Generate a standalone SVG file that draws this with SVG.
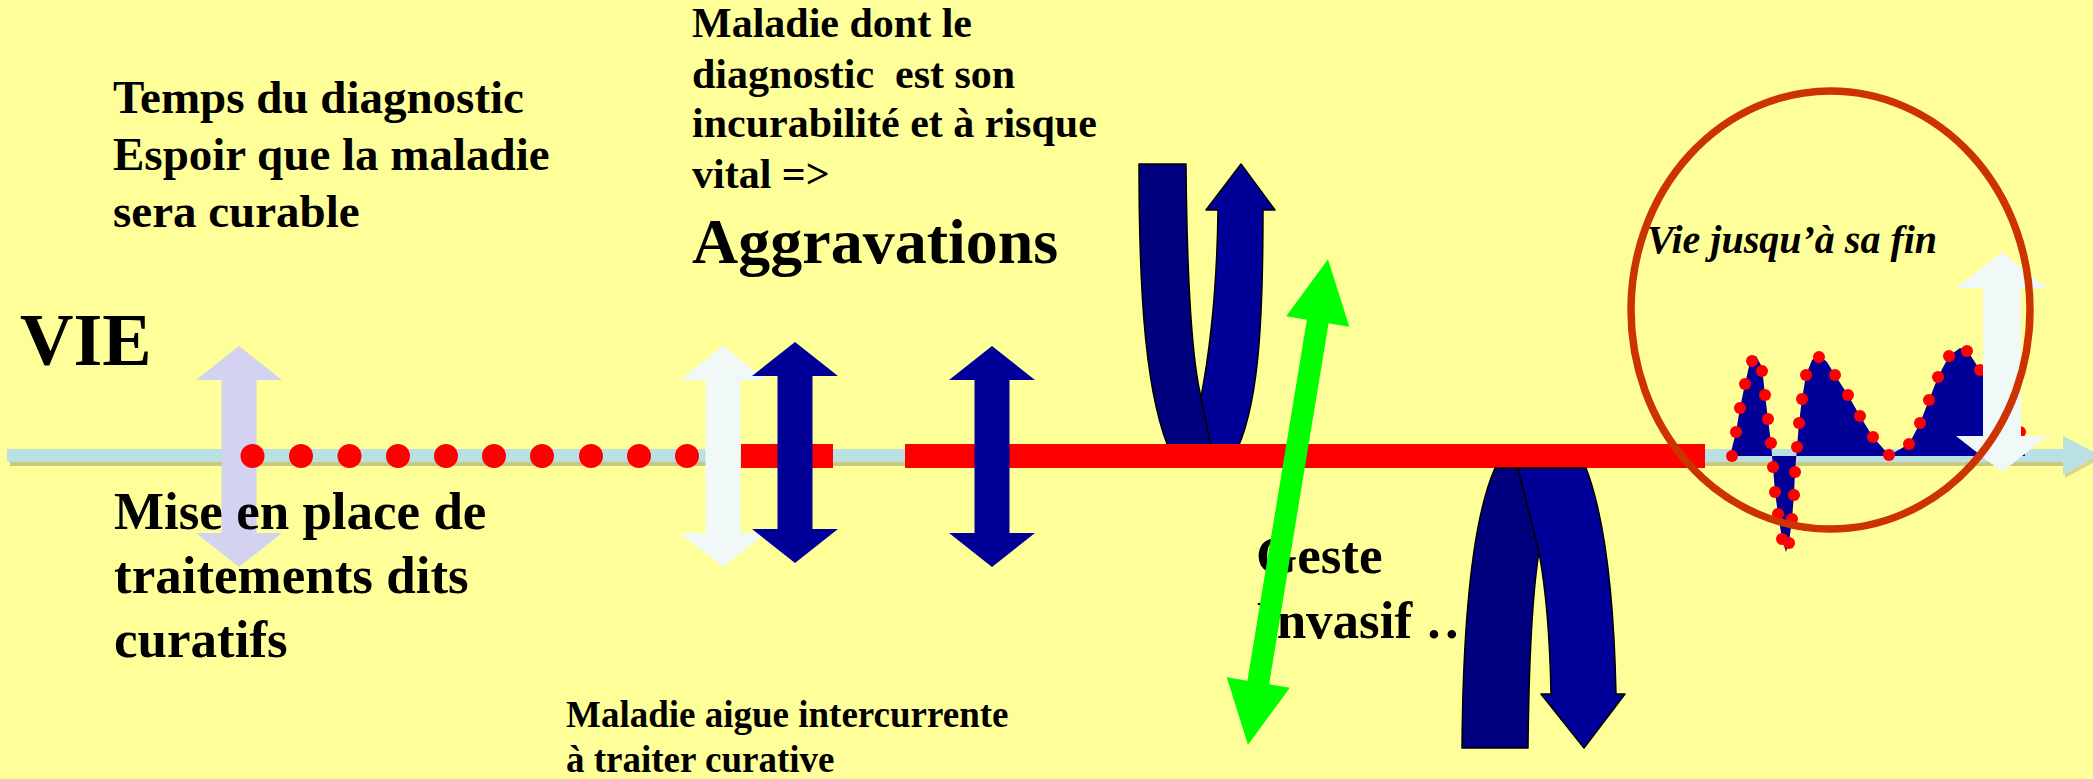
<svg xmlns="http://www.w3.org/2000/svg" xmlns:xlink="http://www.w3.org/1999/xlink" width="2093" height="779" viewBox="0 0 2093 779">
<style>
.t{font-family:"Liberation Serif","Times New Roman",serif;font-weight:bold;fill:#000}
.it{font-style:italic}
.navy{fill:#000099}
.dark{fill:#00007F}
.ol{stroke:#000;stroke-width:1.5;stroke-linejoin:round}
.rd{fill:#FF0000}
</style>
<defs>
<path id="dbl" d="M0,0 L43,34 L17.5,34 L17.5,187 L43,187 L0,221 L-43,187 L-17.5,187 L-17.5,34 L-43,34 Z"/>
</defs>
<rect width="2093" height="779" fill="#FFFF99"/>

<g id="connectors">
  <g id="timeline">
    <rect x="10" y="452" width="2058" height="14" fill="#9C9C66" opacity="0.55"/>
    <rect x="7" y="449" width="2060" height="13" fill="#BBE0E3"/>
    <path d="M2063,436 L2100,455 L2063,475 Z" fill="#9C9C66" opacity="0.4" transform="translate(2,3)"/>
    <path d="M2063,436 L2100,455 L2063,475 Z" fill="#BBE0E3"/>
  </g>
</g>

<g id="fin-mountain">
  <polygon fill="#000099" points="1730,456 1736,432 1740,408 1745,384 1750,362 1756,356 1762,367 1765,395 1768,419 1771,443 1773,467 1775,492 1778,514 1782,539 1786,552 1789,543 1792,519 1794,495 1795,472 1797,447 1799,423 1802,399 1806,375 1812,360 1819,355 1827,362 1835,375 1848,395 1860,416 1873,437 1889,455 1895,452 1909,444 1920,423 1929,400 1938,377 1949,356 1960,348 1967,350 1980,370 1995,395 2010,420 2020,432 2025,456"/>
  <g class="rd">
    <circle cx="1732" cy="456" r="6"/><circle cx="1736" cy="432" r="6"/><circle cx="1740" cy="408" r="6"/><circle cx="1745" cy="384" r="6"/>
    <circle cx="1752" cy="361" r="6"/><circle cx="1762" cy="371" r="6"/><circle cx="1765" cy="395" r="6"/><circle cx="1768" cy="419" r="6"/>
    <circle cx="1771" cy="443" r="6"/><circle cx="1773" cy="467" r="6"/><circle cx="1775" cy="492" r="6"/><circle cx="1778" cy="514" r="6"/>
    <circle cx="1782" cy="539" r="6"/><circle cx="1789" cy="543" r="6"/><circle cx="1792" cy="519" r="6"/><circle cx="1794" cy="495" r="6"/>
    <circle cx="1795" cy="472" r="6"/><circle cx="1797" cy="447" r="6"/><circle cx="1799" cy="423" r="6"/><circle cx="1802" cy="399" r="6"/>
    <circle cx="1806" cy="375" r="6"/><circle cx="1819" cy="357" r="6"/><circle cx="1835" cy="375" r="6"/><circle cx="1848" cy="395" r="6"/>
    <circle cx="1860" cy="416" r="6"/><circle cx="1873" cy="437" r="6"/><circle cx="1889" cy="455" r="6"/><circle cx="1909" cy="444" r="6"/>
    <circle cx="1920" cy="423" r="6"/><circle cx="1929" cy="400" r="6"/><circle cx="1938" cy="377" r="6"/><circle cx="1949" cy="356" r="6"/>
    <circle cx="1967" cy="351" r="6"/><circle cx="1980" cy="370" r="6"/><circle cx="2020" cy="432" r="6"/>
  </g>
</g>

<g id="arrow-diagnostic">
  <use xlink:href="#dbl" href="#dbl" x="239" y="346" fill="#D3D3F1"/>
</g>

<g id="dotted-phase" class="rd">
  <circle cx="252.5" cy="456" r="12"/><circle cx="301" cy="456" r="12"/><circle cx="349.5" cy="456" r="12"/>
  <circle cx="398" cy="456" r="12"/><circle cx="446" cy="456" r="12"/><circle cx="494" cy="456" r="12"/>
  <circle cx="542" cy="456" r="12"/><circle cx="591" cy="456" r="12"/><circle cx="639" cy="456" r="12"/>
  <circle cx="687" cy="456" r="12"/>
</g>

<g id="u-arrow-top">
  <path class="dark ol" d="M1139,164 L1186,164 C1187,280 1192,360 1201,397 L1213,456 L1172,456 C1146,400 1139,300 1139,164 Z"/>
  <path class="navy ol" d="M1218,210 L1206,210 L1241,164 L1275,210 L1263,210 C1263,330 1258,410 1234,456 L1213,456 L1201,397 C1210,350 1217,290 1218,210 Z"/>
</g>

<g id="red-phase" class="rd">
  <rect x="741" y="444" width="92" height="24"/>
  <rect x="905" y="444" width="800" height="24"/>
</g>

<g id="arrow-white-1">
  <use xlink:href="#dbl" href="#dbl" x="723" y="346" fill="#F0F8F8"/>
</g>
<g id="arrow-navy-1">
  <use xlink:href="#dbl" href="#dbl" x="795" y="342" fill="#000099"/>
</g>
<g id="arrow-navy-2">
  <use xlink:href="#dbl" href="#dbl" x="992" y="346" fill="#000099"/>
</g>

<g id="arrow-white-end">
  <path fill="#F0F8F8" d="M2002,252 L2047,288 L2021,288 L2021,436 L2047,436 L2002,472 L1956,436 L1983,436 L1983,288 L1956,288 Z"/>
</g>

<g id="label-vie">
  <text class="t" x="20" y="365" font-size="74">VIE</text>
</g>
<g id="label-temps">
  <text class="t" font-size="47"><tspan x="113" y="113">Temps du diagnostic</tspan><tspan x="113" y="170">Espoir que la maladie</tspan><tspan x="113" y="227">sera curable</tspan></text>
</g>
<g id="label-maladie">
  <text class="t" font-size="42" xml:space="preserve"><tspan x="692" y="37">Maladie dont le</tspan><tspan x="692" y="88">diagnostic  est son</tspan><tspan x="692" y="137">incurabilité et à risque</tspan><tspan x="692" y="188">vital =&gt;</tspan></text>
  <text class="t" x="692" y="263" font-size="64">Aggravations</text>
</g>
<g id="label-mise">
  <text class="t" font-size="53"><tspan x="114" y="529">Mise en place de</tspan><tspan x="114" y="593">traitements dits</tspan><tspan x="114" y="657">curatifs</tspan></text>
</g>
<g id="label-aigue">
  <text class="t" font-size="37"><tspan x="566" y="727">Maladie aigue intercurrente</tspan><tspan x="566" y="772">à traiter curative</tspan></text>
</g>
<g id="label-geste">
  <text class="t" font-size="53"><tspan x="1256" y="573">Geste</tspan><tspan x="1256" y="638">Invasif …</tspan></text>
</g>

<g id="u-arrow-bottom">
  <path class="dark ol" d="M1462,748 L1528,748 C1529,650 1533,590 1539,552 L1518,468 L1495,468 C1472,520 1463,620 1462,748 Z"/>
  <path class="navy ol" d="M1518,468 L1586,468 C1606,520 1614,600 1616,694 L1625,694 L1584,748 L1541,694 L1551,694 C1550,640 1546,590 1539,552 Z"/>
</g>

<g id="arrow-geste">
  <path fill="#00FF00" transform="translate(1288,502) rotate(9.35)" d="M0,-246 L32,-183 L11,-183 L11,183 L32,183 L0,246 L-32,183 L-11,183 L-11,-183 L-32,-183 Z"/>
</g>

<g id="fin-circle">
  <ellipse cx="1830.5" cy="310" rx="199.5" ry="219" fill="none" stroke="#CC3300" stroke-width="7.5"/>
  <text class="t it" x="1647" y="253" font-size="40">Vie jusqu’à sa fin</text>
</g>
</svg>
